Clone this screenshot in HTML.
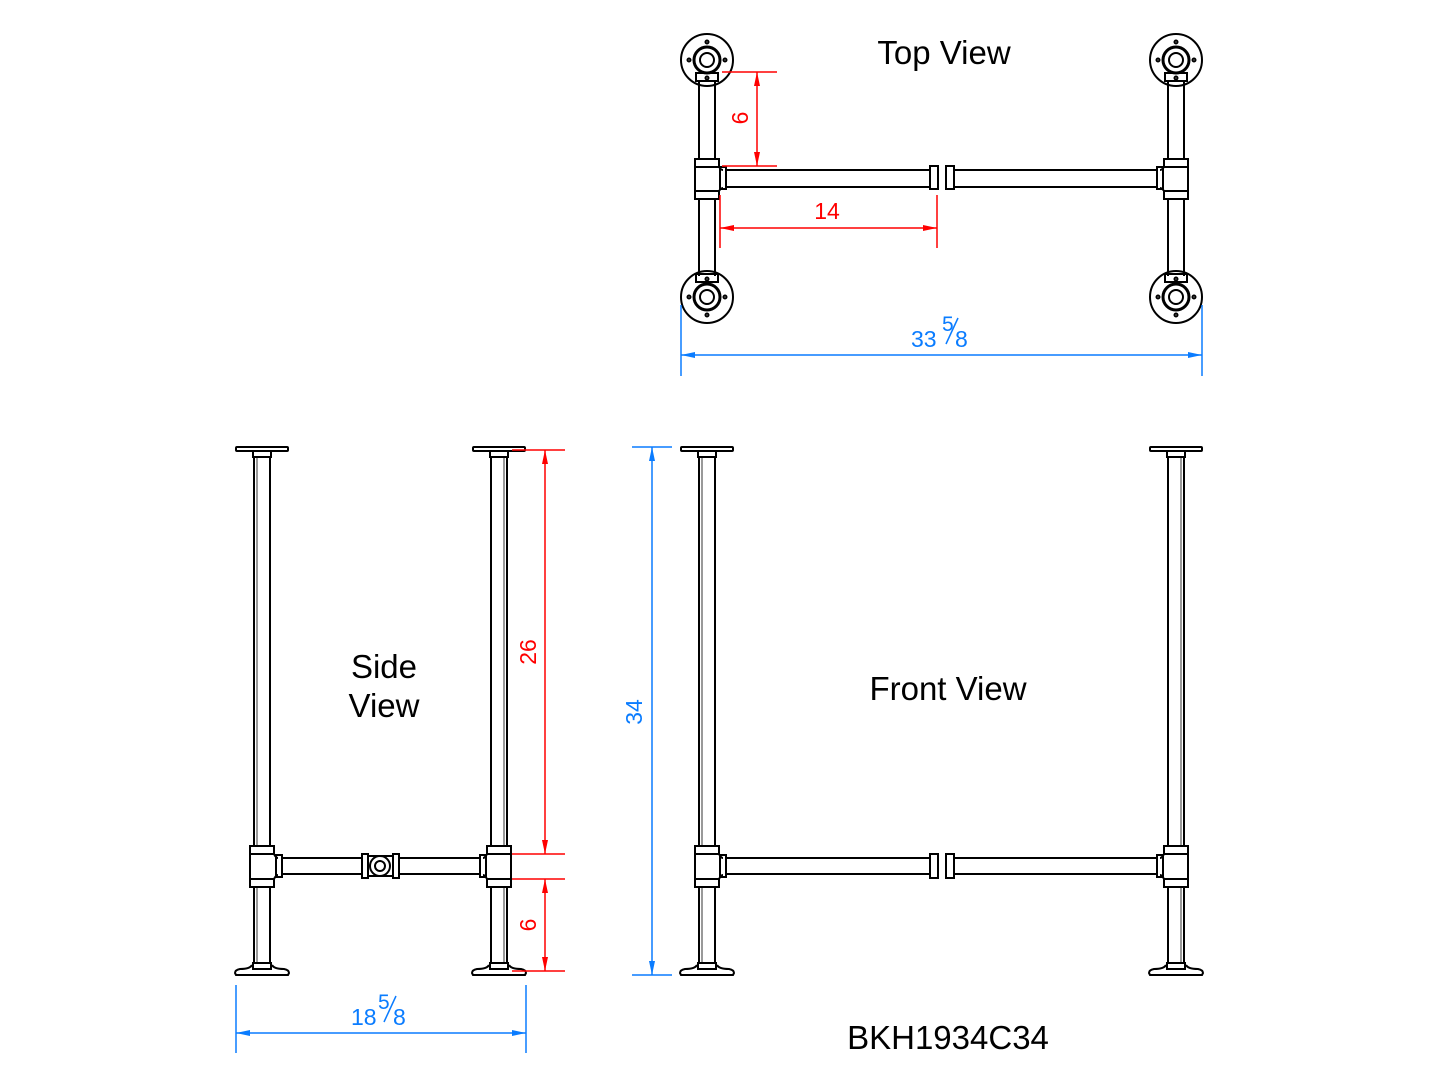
<!DOCTYPE html>
<html><head><meta charset="utf-8"><style>
html,body{margin:0;padding:0;background:#fff;width:1445px;height:1084px;overflow:hidden}
svg{display:block}
text{font-family:"Liberation Sans","DejaVu Sans",sans-serif}
</style></head><body>
<svg width="1445" height="1084" viewBox="0 0 1445 1084" xmlns="http://www.w3.org/2000/svg">
<defs>
<g id="leg" fill="none" stroke="#000" stroke-width="2">
  <rect x="-26" y="447" width="52" height="4" rx="1"/>
  <rect x="-9" y="451" width="18" height="6"/>
  <line x1="-8" y1="457" x2="-8" y2="846"/><line x1="8" y1="457" x2="8" y2="846"/>
  <line x1="-5" y1="457" x2="-5" y2="846" stroke-width="0.8"/>
  <rect x="-12" y="846" width="24" height="8"/>
  <line x1="-12" y1="854" x2="-12" y2="879"/>
  <path d="M12,854 Q14,858 16,858 M12,879 Q14,875 16,875"/>
  <rect x="-12" y="879" width="24" height="8"/>
  <line x1="-8" y1="887" x2="-8" y2="963"/><line x1="8" y1="887" x2="8" y2="963"/>
  <line x1="-5" y1="887" x2="-5" y2="963" stroke-width="0.8"/>
  <rect x="-9" y="963" width="18" height="6"/>
  <path d="M-10,965 Q-12,969 -22,969 Q-27,970 -27,973 L-26,975 L26,975 L27,973 Q27,970 22,969 Q12,969 10,965"/>
</g>
<g id="tleg" fill="none" stroke="#000" stroke-width="2">
  <circle cx="0" cy="60" r="26"/><circle cx="0" cy="60" r="13" stroke-width="3"/><circle cx="0" cy="60" r="7"/>
  <circle cx="-18" cy="60" r="1.5"/><circle cx="18" cy="60" r="1.5"/><circle cx="0" cy="42" r="1.5"/><circle cx="0" cy="78" r="1.5"/>
  <rect x="-11" y="73" width="22" height="8"/>
  <line x1="-8" y1="81" x2="-8" y2="159"/><line x1="8" y1="81" x2="8" y2="159"/>
  <rect x="-12" y="159" width="24" height="8"/>
  <line x1="-12" y1="167" x2="-12" y2="191"/>
  <path d="M12,167 Q14,170 16,170 M12,191 Q14,188 16,188"/>
  <rect x="-12" y="191" width="24" height="8"/>
  <line x1="-8" y1="199" x2="-8" y2="276"/><line x1="8" y1="199" x2="8" y2="276"/>
  <rect x="-11" y="274" width="22" height="8"/>
  <circle cx="0" cy="297" r="26"/><circle cx="0" cy="297" r="13" stroke-width="3"/><circle cx="0" cy="297" r="7"/>
  <circle cx="-18" cy="297" r="1.5"/><circle cx="18" cy="297" r="1.5"/><circle cx="0" cy="279" r="1.5"/><circle cx="0" cy="315" r="1.5"/>
</g>
<marker id="arR" viewBox="0 0 14 6" refX="14" refY="3" markerWidth="14" markerHeight="6" markerUnits="userSpaceOnUse" orient="auto-start-reverse"><path d="M0,0 L14,3 L0,6z" fill="#f00"/></marker>
<marker id="arB" viewBox="0 0 14 6" refX="14" refY="3" markerWidth="14" markerHeight="6" markerUnits="userSpaceOnUse" orient="auto-start-reverse"><path d="M0,0 L14,3 L0,6z" fill="#0a7cff"/></marker>
</defs>

<use href="#tleg" transform="translate(707,0)"/>
<use href="#tleg" transform="translate(1176,0) scale(-1,1)"/>
<g fill="none" stroke="#000" stroke-width="2">
  <rect x="720" y="167" width="6" height="22"/>
  <line x1="726" y1="170" x2="930" y2="170"/><line x1="726" y1="187" x2="930" y2="187"/>
  <rect x="930" y="166" width="8" height="23"/><rect x="946" y="166" width="8" height="23"/>
  <line x1="954" y1="170" x2="1157" y2="170"/><line x1="954" y1="187" x2="1157" y2="187"/>
  <rect x="1157" y="167" width="6" height="22"/>
</g>

<use href="#leg" transform="translate(262,0)"/>
<use href="#leg" transform="translate(499,0) scale(-1,1)"/>
<g fill="none" stroke="#000" stroke-width="2">
  <rect x="276" y="855" width="6" height="22"/>
  <line x1="282" y1="858" x2="362" y2="858"/><line x1="282" y1="874" x2="362" y2="874"/>
  <rect x="362" y="854" width="6" height="24"/><rect x="368" y="856" width="25" height="20"/><rect x="393" y="854" width="6" height="24"/>
  <circle cx="380" cy="866" r="10"/><circle cx="380" cy="866" r="5"/>
  <line x1="399" y1="858" x2="480" y2="858"/><line x1="399" y1="874" x2="480" y2="874"/>
  <rect x="480" y="855" width="6" height="22"/>
</g>

<use href="#leg" transform="translate(707,0)"/>
<use href="#leg" transform="translate(1176,0) scale(-1,1)"/>
<g fill="none" stroke="#000" stroke-width="2">
  <rect x="720" y="855" width="6" height="22"/>
  <line x1="726" y1="858" x2="930" y2="858"/><line x1="726" y1="874" x2="930" y2="874"/>
  <rect x="930" y="854" width="8" height="24"/><rect x="946" y="854" width="8" height="24"/>
  <line x1="954" y1="858" x2="1157" y2="858"/><line x1="954" y1="874" x2="1157" y2="874"/>
  <rect x="1157" y="855" width="6" height="22"/>
</g>

<g stroke="#f00" stroke-width="1.5" fill="none">
  <line x1="722" y1="72" x2="777" y2="72"/><line x1="722" y1="166" x2="777" y2="166"/>
  <line x1="757" y1="72" x2="757" y2="166" marker-start="url(#arR)" marker-end="url(#arR)"/>
  <line x1="720" y1="195" x2="720" y2="248"/><line x1="937" y1="195" x2="937" y2="248"/>
  <line x1="720" y1="228" x2="937" y2="228" marker-start="url(#arR)" marker-end="url(#arR)"/>
  <line x1="512" y1="450" x2="565" y2="450"/><line x1="512" y1="854" x2="565" y2="854"/>
  <line x1="545" y1="450" x2="545" y2="854" marker-start="url(#arR)" marker-end="url(#arR)"/>
  <line x1="512" y1="879" x2="565" y2="879"/><line x1="512" y1="971" x2="565" y2="971"/>
  <line x1="545" y1="879" x2="545" y2="971" marker-start="url(#arR)" marker-end="url(#arR)"/>
</g>
<g fill="#f00" font-size="23">
  <text transform="translate(748,118) rotate(-90)" text-anchor="middle">6</text>
  <text x="827" y="219" text-anchor="middle">14</text>
  <text transform="translate(536,652) rotate(-90)" text-anchor="middle">26</text>
  <text transform="translate(536,925) rotate(-90)" text-anchor="middle">6</text>
</g>

<g stroke="#0a7cff" stroke-width="1.5" fill="none">
  <line x1="681" y1="305" x2="681" y2="376"/><line x1="1202" y1="305" x2="1202" y2="376"/>
  <line x1="681" y1="355" x2="1202" y2="355" marker-start="url(#arB)" marker-end="url(#arB)"/>
  <line x1="632" y1="447" x2="672" y2="447"/><line x1="632" y1="975" x2="672" y2="975"/>
  <line x1="652" y1="447" x2="652" y2="975" marker-start="url(#arB)" marker-end="url(#arB)"/>
  <line x1="236" y1="985" x2="236" y2="1053"/><line x1="526" y1="985" x2="526" y2="1053"/>
  <line x1="236" y1="1033" x2="526" y2="1033" marker-start="url(#arB)" marker-end="url(#arB)"/>
  <line x1="946" y1="344" x2="958" y2="318"/>
  <line x1="384" y1="1022" x2="396" y2="996"/>
</g>
<g fill="#0a7cff" font-size="23">
  <text x="911" y="347">33</text><text x="942" y="331" font-size="21">5</text><text x="955" y="347">8</text>
  <text x="351" y="1025">18</text><text x="378" y="1009" font-size="21">5</text><text x="393" y="1025">8</text>
  <text transform="translate(642,712) rotate(-90)" text-anchor="middle">34</text>
</g>

<g fill="#000" font-size="33" text-anchor="middle">
  <text x="944" y="64">Top View</text>
  <text x="384" y="678">Side</text>
  <text x="384" y="717">View</text>
  <text x="948" y="700">Front View</text>
  <text x="948" y="1049">BKH1934C34</text>
</g>
</svg>
</body></html>
